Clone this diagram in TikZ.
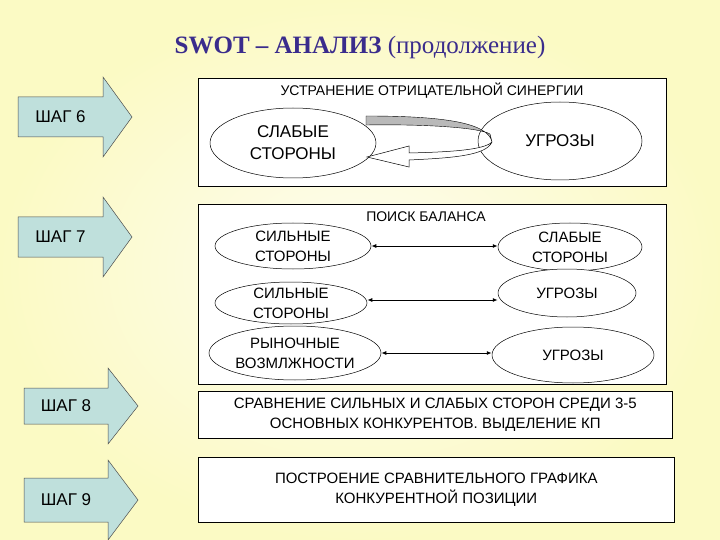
\documentclass[tikz,border=0pt]{standalone}
\usepackage{fontspec}
\setmainfont{Liberation Sans}
\newfontfamily\titlefont{Liberation Serif}
\usetikzlibrary{arrows.meta,shapes.geometric}
\definecolor{bg}{HTML}{FBF9DA}
\definecolor{arrowfill}{HTML}{BFE0DC}
\definecolor{titlecol}{HTML}{3A2C8C}
\tikzset{
 x=1pt,y=-1pt,
 panel/.style={draw=black,fill=white,line width=0.6pt},
 oval/.style={draw=black,fill=white,ellipse,line width=0.5pt},
 lbl/.style={font=\fontsize{14}{16}\selectfont,align=center,inner sep=0pt},
 steparrow/.style={draw=black!70,fill=arrowfill,line width=0.5pt},
 link/.style={{Latex[length=5pt,width=4pt]}-{Latex[length=5pt,width=4pt]},line width=0.9pt},
}
\begin{document}
\begin{tikzpicture}
\shade[inner color=white!60!bg,outer color=bg!90!yellow] (0,0) rectangle (720,540);
\useasboundingbox (0,0) rectangle (720,540);
\node[titlecol,inner sep=0pt] (title) at (360,47) {\titlefont\fontsize{25}{28}\selectfont\textbf{SWOT – АНАЛИЗ} (продолжение)};
% step arrows
\foreach \n/\cy/\bh/\hh/\xa/\xb/\xt in {6/117/20/40/18/103/132, 7/237/20/40/18/103/132, 8/406/18/38/24/108/138, 9/500/22/40/24/108/138}{
 \draw[steparrow] (\xa,\cy-\bh) -- (\xb,\cy-\bh) -- (\xb,\cy-\hh) -- (\xt,\cy) -- (\xb,\cy+\hh) -- (\xb,\cy+\bh) -- (\xa,\cy+\bh) -- cycle;
 \node[lbl,font=\fontsize{17}{19}\selectfont] (s\n) at ({(\xa+\xb)/2},\cy) {ШАГ \n};
}
% panel 1
\node[panel,minimum width=468pt,minimum height=108pt,anchor=north west] (p1) at (198,78) {};
\node[lbl] (p1t) at (432,91) {УСТРАНЕНИЕ ОТРИЦАТЕЛЬНОЙ СИНЕРГИИ};
\node[oval,minimum width=166pt,minimum height=70pt] (w1) at (293,143) {};
\node[lbl,font=\fontsize{17}{22}\selectfont] at (w1) {СЛАБЫЕ\\СТОРОНЫ};
\node[oval,minimum width=164pt,minimum height=78pt] (t1) at (560,141) {};
\node[lbl,font=\fontsize{17}{20}\selectfont] at (t1) {УГРОЗЫ};
% curved arrows
\fill[gray!55,draw=black,line width=0.4pt] (366,116) .. controls (440,116) and (488,122) .. (492,142) -- (490,134) .. controls (480,128) and (430,124) .. (366,125) -- cycle;
\draw[fill=white,line width=0.5pt] (492,142) .. controls (486,156) and (450,158) .. (409,160) -- (409,167) -- (367,157) -- (409,146) -- (409,153) .. controls (450,152) and (484,150) .. (492,142);
% panel 2
\node[panel,minimum width=468pt,minimum height=180pt,anchor=north west] (p2) at (198,204) {};
\node[lbl] (p2t) at (426,217) {ПОИСК БАЛАНСА};
\node[oval,minimum width=156pt,minimum height=46pt] (a1) at (293,246) {};
\node[lbl,font=\fontsize{15}{20}\selectfont] at (a1) {СИЛЬНЫЕ\\СТОРОНЫ};
\node[oval,minimum width=144pt,minimum height=48pt] (b1) at (570,247) {};
\node[lbl,font=\fontsize{15}{20}\selectfont] at (b1) {СЛАБЫЕ\\СТОРОНЫ};
\node[oval,minimum width=152pt,minimum height=42pt] (a2) at (291,303) {};
\node[lbl,font=\fontsize{15}{20}\selectfont] at (a2) {СИЛЬНЫЕ\\СТОРОНЫ};
\node[oval,minimum width=138pt,minimum height=48pt] (b2) at (567,293) {};
\node[lbl,font=\fontsize{15}{20}\selectfont] at (b2) {УГРОЗЫ};
\node[oval,minimum width=172pt,minimum height=54pt] (a3) at (295,353) {};
\node[lbl,font=\fontsize{15}{20}\selectfont] at (a3) {РЫНОЧНЫЕ\\ВОЗМЛЖНОСТИ};
\node[oval,minimum width=162pt,minimum height=56pt] (b3) at (573,355) {};
\node[lbl,font=\fontsize{15}{20}\selectfont] at (b3) {УГРОЗЫ};
\draw[link] (a1.east) -- (b1.west |- a1.east);
\draw[link] (a2.east |- 0,300) -- (b2.west |- 0,300);
\draw[link] (a3.east) -- (b3.west |- a3.east);
% panel 3
\node[panel,minimum width=474pt,minimum height=47pt,anchor=north west] (p3) at (198,391) {};
\node[lbl,font=\fontsize{15}{20}\selectfont] at (p3) {СРАВНЕНИЕ СИЛЬНЫХ И СЛАБЫХ СТОРОН СРЕДИ 3-5\\ОСНОВНЫХ КОНКУРЕНТОВ. ВЫДЕЛЕНИЕ КП};
% panel 4
\node[panel,minimum width=476pt,minimum height=65pt,anchor=north west] (p4) at (198,457) {};
\node[lbl,font=\fontsize{15}{20}\selectfont] at (p4) {ПОСТРОЕНИЕ СРАВНИТЕЛЬНОГО ГРАФИКА\\КОНКУРЕНТНОЙ ПОЗИЦИИ};
\end{tikzpicture}
\end{document}
